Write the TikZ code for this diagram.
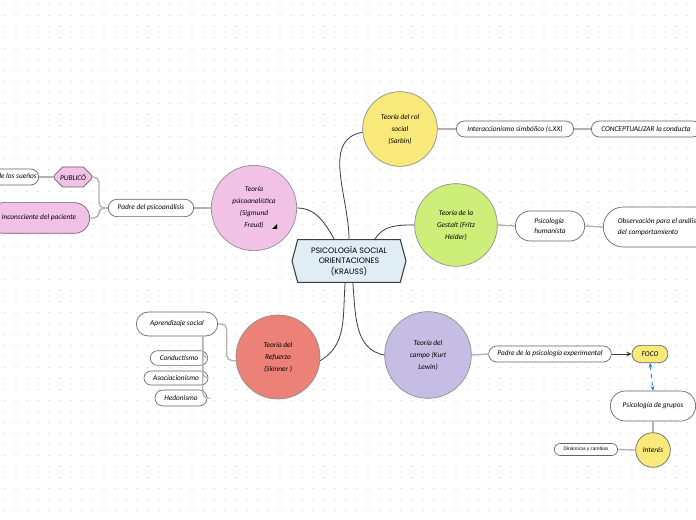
\documentclass[tikz,border=0pt]{standalone}
\usepackage{fontspec}
\setmainfont{Carlito}
\newfontfamily\hexfont{Poppins}
\usetikzlibrary{shapes.misc,shapes.symbols,calc,arrows.meta}

\definecolor{rolyellow}{RGB}{249,232,122}
\definecolor{gestaltgreen}{RGB}{205,238,121}
\definecolor{lewinpurple}{RGB}{197,189,227}
\definecolor{freudpink}{RGB}{241,194,229}
\definecolor{skinnerred}{RGB}{236,129,119}
\definecolor{hexblue}{RGB}{224,237,244}
\definecolor{circleline}{RGB}{140,140,140}
\definecolor{boxline}{RGB}{100,100,100}
\definecolor{mainline}{RGB}{60,60,60}
\definecolor{subline}{RGB}{178,178,178}
\definecolor{linkblue}{RGB}{40,130,225}
\definecolor{dotgray}{RGB}{226,226,226}

\begin{document}
\begin{tikzpicture}[x=0.75pt,y=0.75pt,
    hexbox/.style={signal,signal to=west and east,signal pointer angle=150,draw=mainline,line width=0.8pt,fill=hexblue,
      minimum width=85.5pt,minimum height=32pt,inner sep=1pt,align=center,font=\hexfont\fontsize{5.9}{7.8}\selectfont},
    theory/.style={circle,draw=circleline,line width=0.5pt,inner sep=0pt,align=center,
      font=\fontsize{5.5}{9}\selectfont\itshape},
    leaf/.style={rounded rectangle,draw=boxline,fill=white,line width=0.5pt,inner sep=1pt,align=center,
      font=\fontsize{5.5}{8}\selectfont\itshape},
    main/.style={draw=mainline,line width=0.6pt},
    sub/.style={draw=subline,line width=1pt},
    arrowline/.style={draw=mainline,line width=0.7pt,-{Stealth[length=4pt,width=3.5pt]}},
    focolink/.style={draw=linkblue,line width=0.7pt,dashed,{Stealth[length=3.5pt,width=3pt]}-{Stealth[length=3.5pt,width=3pt]}}]
    \useasboundingbox (0,0) rectangle (696,-520);
    \fill[white] (0,0) rectangle (696,-520);
    % dotted background
    \foreach \i in {0,...,63}
      \foreach \j in {0,...,47}
        \fill[dotgray] (\i*11+4,-\j*11-4) rectangle ++(1.6,-0.9);

    % centre and theories
    \node[hexbox] (hex) at (349,-261) {PSICOLOGÍA SOCIAL\\ORIENTACIONES\\(KRAUSS)};
    \node[theory,fill=rolyellow,minimum size=56pt] (sarbin) at (400,-129) {Teoría del rol\\social\\(Sarbin)};
    \node[theory,fill=gestaltgreen,minimum size=62pt] (gestalt) at (456,-225) {Teoría de la\\Gestalt (Fritz\\Heider)};
    \node[theory,fill=lewinpurple,minimum size=65pt] (lewin) at (428,-355) {Teoría del\\campo (Kurt\\Lewin)};
    \node[theory,fill=freudpink,minimum size=64pt] (freud) at (254,-208) {Teoría\\psicoanalística\\(Sigmund\\Freud)};
    \node[theory,fill=skinnerred,minimum size=63pt] (skinner) at (278,-357) {Teoría del\\Refuerzo\\(Skinner )};
    \fill (272,-229) -- (277,-229) -- (277,-224) -- cycle;

    % right side
    \node[leaf,minimum width=90pt,minimum height=12pt] (interacc) at (515,-129) {Interaccionismo simbólico (s.XX)};
    \node[leaf,minimum width=84pt,minimum height=12pt,anchor=west] (concept) at (591,-129) {CONCEPTUALIZAR la conducta};
    \node[leaf,minimum width=54pt,minimum height=22.5pt,align=left] (human) at (550,-226) {Psicología\\humanista};
    \node[leaf,minimum width=86pt,minimum height=30pt,anchor=west,align=left] (obs) at (603,-227) {Observación para el análisis\\del comportamiento};
    \node[leaf,minimum width=94pt,minimum height=12pt] (padreexp) at (550,-354) {Padre de la psicología experimental};
    \node[leaf,fill=rolyellow,minimum width=29pt,minimum height=13pt] (foco) at (650,-354) {FOCO};
    \node[leaf,minimum width=66pt,minimum height=22.5pt] (grupos) at (653,-406) {Psicología de grupos};
    \node[theory,fill=rolyellow,draw=boxline,minimum size=26pt] (interes) at (653,-450) {Interés};
    \node[leaf,minimum width=49.5pt,minimum height=9pt,font=\fontsize{4}{5}\selectfont] (dinam) at (586,-449.5) {Dinámicas y cambios};

    % left side
    \node[leaf,minimum width=66pt,minimum height=13pt] (padrepsico) at (151,-208) {Padre del psicoanálisis};
    \node[chamfered rectangle,chamfered rectangle xsep=3pt,draw=boxline,fill=freudpink,line width=0.5pt,inner sep=1pt,
      minimum width=28pt,minimum height=15pt,font=\fontsize{5.5}{8}\selectfont\itshape] (publico) at (73,-177) {PUBLICÓ};
    \node[leaf,anchor=east,minimum height=12pt] (suenos) at (39,-177) {La interpretación de los sueños};
    \node[leaf,fill=freudpink,anchor=east,minimum width=78pt,minimum height=23pt] (inconsc) at (90,-218) {Inconsciente del paciente};
    \node[leaf,minimum width=63pt,minimum height=18pt] (aprend) at (177,-324) {Aprendizaje social};
    \node[leaf,minimum width=45pt,minimum height=11pt] (conduct) at (179,-358) {Conductismo};
    \node[leaf,minimum width=50pt,minimum height=10.5pt] (asoc) at (176,-378) {Asociacionismo};
    \node[leaf,minimum width=41pt,minimum height=12pt] (hedon) at (181,-398) {Hedonismo};

    % connectors
    \draw[main] (hex.north) to[out=90,in=190] (sarbin.185);
    \draw[main] (hex.124) to[out=120,in=0] (freud.east);
    \draw[main] (hex.40) to[out=60,in=180] (gestalt.west);
    \draw[main] (hex.-100) to[out=-95,in=30] (skinner.-5);
    \draw[main] (hex.-80) to[out=-85,in=170] (lewin.west);

    \draw[sub] (sarbin.east) -- (interacc.west);
    \draw[sub] (interacc.east) -- (concept.west);
    \draw[sub] (gestalt.east) -- (human.west);
    \draw[sub] (human.east) -- (obs.west);
    \draw[sub] (lewin.east) -- (padreexp.west);
    \draw[arrowline] (padreexp.east) -- (foco.west);
    \draw[focolink] (foco.south) -- (grupos.north);
    \draw[sub] (grupos.south) -- (interes.north);
    \draw[sub] (interes.west) -- (dinam.east);

    \draw[sub] (freud.west) -- (padrepsico.east);
    \draw[sub,rounded corners=4pt] (padrepsico.west) -- ++(-9,0) |- (publico.east);
    \draw[sub,rounded corners=4pt] (padrepsico.west) -- ++(-9,0) |- (inconsc.east);
    \draw[sub] (publico.west) -- (suenos.east);
    \draw[sub,rounded corners=4pt] (skinner.185) -- ++(-9,0) |- (aprend.east);
    \draw[sub,rounded corners=4pt] ($(aprend.south east)+(-3,0)$) |- (conduct.east);
    \draw[sub,rounded corners=4pt] ($(aprend.south east)+(-3,0)$) |- (asoc.east);
    \draw[sub,rounded corners=4pt] ($(aprend.south east)+(-3,0)$) |- (hedon.east);
\end{tikzpicture}
\end{document}
